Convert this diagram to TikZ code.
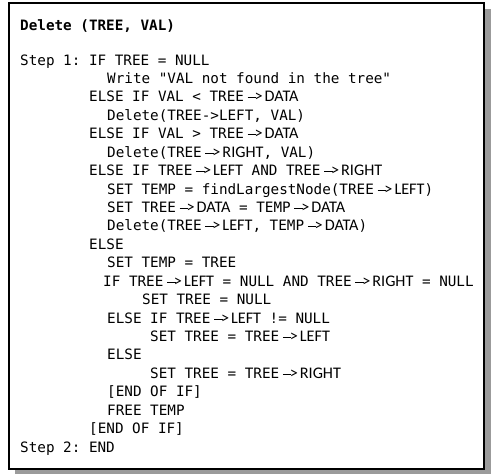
\documentclass[tikz,border=0pt]{standalone}
\usepackage{fontspec}
\setmonofont{DejaVu Sans Mono}
\newfontfamily\arrfont{Carlito}
\definecolor{shadowgray}{RGB}{155,155,155}
\newcommand\tarr[1]{{\arrfont\fontsize{16.2}{18}\selectfont\ \raisebox{3.6pt}{\rule{8.5pt}{0.9pt}}\kern-1.6pt>\kern2pt#1}}
\begin{document}
\begin{tikzpicture}[x=1pt,y=-1pt,
  ln/.style={anchor=base west,inner sep=0pt,font=\fontsize{14.29}{16}\selectfont\ttfamily},
  ttl/.style={ln,font=\fontsize{14.29}{16}\selectfont\ttfamily\bfseries}]
\useasboundingbox (0,0) rectangle (491,474);
\fill[shadowgray] (15,9) rectangle (491,474);
\draw[line width=1.4pt,fill=white] (9,3) rectangle (484,469);
\node[ttl] (l1) at (20,30.5) {Delete (TREE, VAL)};
\node[ln] (l2) at (20,65) {Step 1: IF TREE = NULL};
\node[ln] (l3) at (107,83.43) {Write "VAL not found in the tree"};
\node[ln] (l4) at (89,101.86) {ELSE IF VAL < TREE\tarr{DATA}};
\node[ln] (l5) at (107,120.29) {Delete(TREE->LEFT, VAL)};
\node[ln] (l6) at (89,138.71) {ELSE IF VAL > TREE\tarr{DATA}};
\node[ln] (l7) at (107,157.14) {Delete(TREE\tarr{RIGHT}, VAL)};
\node[ln] (l8) at (89,175.57) {ELSE IF TREE\tarr{LEFT} AND TREE\tarr{RIGHT}};
\node[ln] (l9) at (107,194) {SET TEMP = findLargestNode(TREE\tarr{LEFT})};
\node[ln] (l10) at (107,212.43) {SET TREE\tarr{DATA} = TEMP\tarr{DATA}};
\node[ln] (l11) at (107,230.86) {Delete(TREE\tarr{LEFT}, TEMP\tarr{DATA})};
\node[ln] (l12) at (89,249.29) {ELSE};
\node[ln] (l13) at (107,267.71) {SET TEMP = TREE};
\node[ln] (l14) at (103,286.14) {IF TREE\tarr{LEFT} = NULL AND TREE\tarr{RIGHT} = NULL};
\node[ln] (l15) at (142,304.57) {SET TREE = NULL};
\node[ln] (l16) at (107,323) {ELSE IF TREE\tarr{LEFT} != NULL};
\node[ln] (l17) at (150,341.43) {SET TREE = TREE\tarr{LEFT}};
\node[ln] (l18) at (107,359.86) {ELSE};
\node[ln] (l19) at (150,378.29) {SET TREE = TREE\tarr{RIGHT}};
\node[ln] (l20) at (107,396.71) {[END OF IF]};
\node[ln] (l21) at (107,415.14) {FREE TEMP};
\node[ln] (l22) at (89,433.57) {[END OF IF]};
\node[ln] (l23) at (20,452) {Step 2: END};
\end{tikzpicture}
\end{document}
